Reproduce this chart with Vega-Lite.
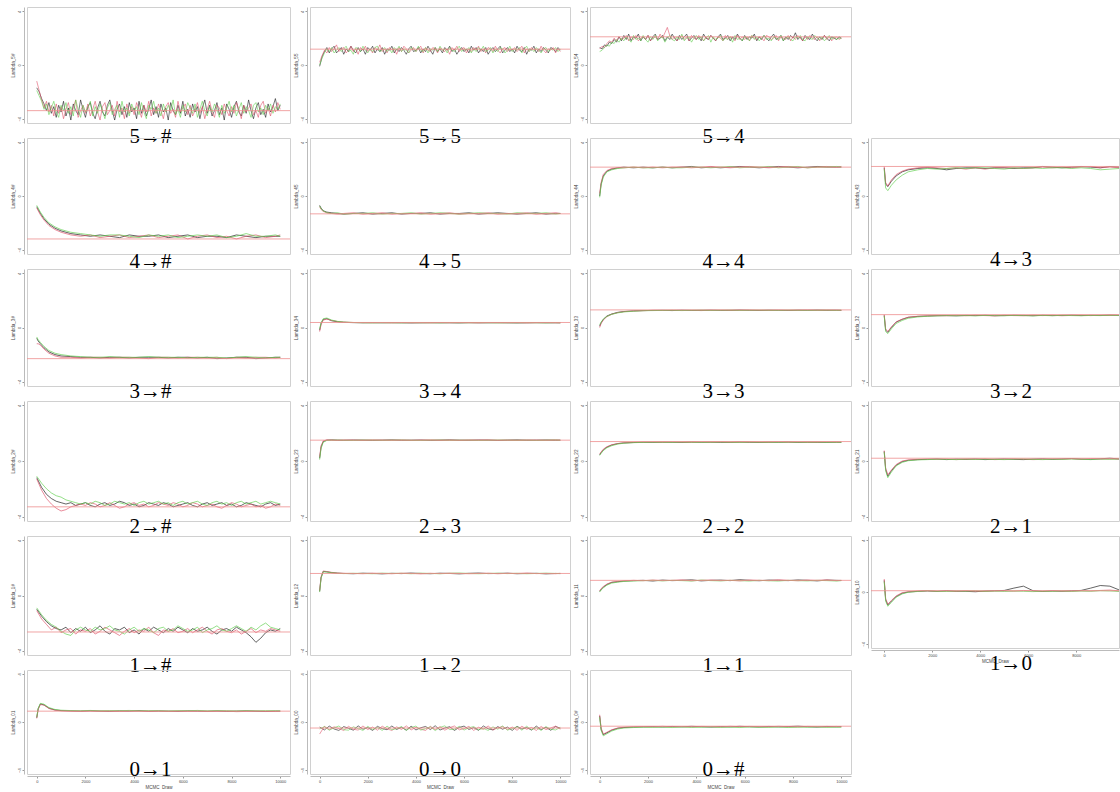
{
"$schema":"https://vega.github.io/schema/vega-lite/v6.json",
"padding":{"left":9,"top":6,"right":0,"bottom":0},
"background":"white",
"datasets":{
"tr":[
{"p":"5→#","x":[0,100,200,300,400,500,600,700,800,900,1000,1100,1200,1300,1400,1500,1600,1700,1800,1900,2000,2100,2200,2300,2400,2500,2600,2700,2800,2900,3000,3100,3200,3300,3400,3500,3600,3700,3800,3900,4000,4100,4200,4300,4400,4500,4600,4700,4800,4900,5000,5100,5200,5300,5400,5500,5600,5700,5800,5900,6000,6100,6200,6300,6400,6500,6600,6700,6800,6900,7000,7100,7200,7300,7400,7500,7600,7700,7800,7900,8000,8100,8200,8300,8400,8500,8600,8700,8800,8900,9000,9100,9200,9300,9400,9500,9600,9700,9800,9900,10000],
"k":[-1.7,-2.0,-2.5,-2.9,-3.4,-2.8,-3.6,-3.1,-3.9,-3.0,-3.5,-2.7,-3.8,-3.2,-4.1,-2.9,-3.4,-3.7,-2.6,-3.3,-3.9,-3.1,-2.8,-3.6,-4.0,-3.2,-2.7,-3.5,-3.8,-3.0,-2.6,-3.4,-4.1,-3.3,-2.9,-3.7,-3.1,-3.9,-2.8,-3.5,-3.2,-4.0,-2.7,-3.6,-3.0,-3.8,-3.3,-2.6,-3.7,-3.1,-3.9,-2.9,-3.5,-3.2,-4.1,-2.8,-3.4,-3.7,-3.0,-3.6,-2.7,-3.8,-3.3,-3.9,-2.9,-3.5,-3.1,-4.0,-3.2,-2.6,-3.6,-3.0,-3.8,-3.4,-2.8,-3.7,-3.2,-4.1,-2.9,-3.3,-3.9,-3.1,-2.7,-3.5,-3.8,-3.0,-3.6,-2.6,-3.4,-4.0,-3.2,-2.8,-3.7,-3.3,-3.9,-2.9,-3.5,-3.1,-2.5,-3.4,-3.0],
"r":[-1.2,-1.9,-2.6,-3.2,-2.7,-3.5,-3.0,-3.8,-2.9,-3.6,-3.1,-4.0,-3.3,-2.8,-3.7,-3.2,-2.6,-3.9,-3.4,-3.0,-3.6,-2.9,-3.8,-3.3,-2.7,-3.5,-4.1,-3.1,-2.8,-3.7,-3.4,-3.0,-3.8,-2.7,-3.5,-3.2,-4.0,-2.9,-3.6,-3.1,-3.7,-2.8,-3.3,-3.9,-3.0,-3.5,-2.7,-3.8,-3.2,-3.6,-2.9,-3.4,-4.0,-3.1,-2.8,-3.6,-3.3,-3.9,-2.7,-3.5,-3.2,-2.9,-3.7,-3.0,-3.8,-3.4,-2.8,-3.6,-3.1,-4.0,-3.3,-2.7,-3.5,-3.9,-3.0,-3.2,-3.7,-2.9,-3.4,-3.8,-3.1,-3.6,-2.8,-3.3,-4.0,-3.0,-3.5,-3.2,-2.9,-3.7,-3.4,-3.9,-3.0,-2.7,-3.6,-3.2,-3.8,-3.0,-3.5,-2.8,-3.3],
"g":[-1.9,-2.3,-2.7,-3.3,-2.9,-3.7,-3.2,-2.7,-3.5,-3.9,-3.0,-3.4,-2.8,-3.6,-3.1,-3.8,-2.6,-3.3,-3.9,-3.0,-3.5,-3.2,-2.7,-3.8,-3.1,-3.6,-2.9,-3.4,-4.0,-3.2,-2.8,-3.7,-3.3,-3.0,-3.9,-2.7,-3.5,-3.2,-3.8,-2.9,-3.4,-3.1,-3.7,-2.8,-3.5,-4.0,-3.0,-3.3,-2.7,-3.6,-3.2,-3.8,-2.9,-3.5,-3.0,-3.4,-2.6,-3.7,-3.3,-3.9,-3.0,-3.5,-2.8,-3.2,-3.6,-2.9,-3.9,-3.3,-2.7,-3.4,-3.8,-3.1,-3.5,-2.9,-3.3,-3.9,-3.0,-3.6,-3.2,-2.7,-3.5,-3.0,-3.8,-3.3,-2.8,-3.6,-3.1,-3.4,-3.9,-3.0,-2.8,-3.5,-3.2,-3.7,-3.0,-3.4,-2.9,-3.6,-3.1,-3.3,-2.9]},
{"p":"5→5","x":[0,100,200,300,400,500,600,700,800,900,1000,1100,1200,1300,1400,1500,1600,1700,1800,1900,2000,2100,2200,2300,2400,2500,2600,2700,2800,2900,3000,3100,3200,3300,3400,3500,3600,3700,3800,3900,4000,4100,4200,4300,4400,4500,4600,4700,4800,4900,5000,5100,5200,5300,5400,5500,5600,5700,5800,5900,6000,6100,6200,6300,6400,6500,6600,6700,6800,6900,7000,7100,7200,7300,7400,7500,7600,7700,7800,7900,8000,8100,8200,8300,8400,8500,8600,8700,8800,8900,9000,9100,9200,9300,9400,9500,9600,9700,9800,9900,10000],
"k":[-0.1,0.6,1.0,1.3,0.9,1.2,1.4,0.9,1.1,1.3,0.8,1.2,1.0,1.4,1.1,0.9,1.3,1.0,1.2,0.8,1.3,1.1,1.4,0.9,1.2,1.0,1.3,0.8,1.2,1.1,1.4,0.9,1.2,1.0,1.3,1.1,0.8,1.2,1.4,1.0,1.1,1.3,0.9,1.2,1.0,1.4,1.1,0.8,1.3,1.0,1.2,0.9,1.3,1.1,1.4,1.0,1.2,0.8,1.1,1.3,1.0,1.2,0.9,1.4,1.1,1.3,0.9,1.2,1.0,1.3,0.8,1.1,1.3,1.0,1.2,1.4,0.9,1.1,1.3,1.0,1.2,0.9,1.4,1.1,1.0,1.3,0.8,1.2,1.1,1.4,0.9,1.2,1.0,1.3,1.1,0.9,1.3,1.2,1.0,1.3,1.1],
"r":[0.2,0.7,1.1,0.9,1.3,1.0,1.2,1.5,1.0,1.2,1.3,0.9,1.1,1.4,1.0,1.2,0.8,1.3,1.1,1.4,1.0,1.2,0.9,1.3,1.1,1.5,1.0,1.2,0.9,1.3,1.1,1.2,0.8,1.3,1.0,1.4,1.2,0.9,1.1,1.3,1.0,1.2,1.4,0.9,1.3,1.1,1.0,1.3,1.2,0.9,1.3,1.1,1.0,1.2,0.8,1.3,1.1,1.4,1.0,1.2,1.3,0.9,1.2,1.0,1.3,1.1,1.4,1.0,1.2,0.9,1.3,1.2,1.0,1.4,1.1,0.9,1.2,1.3,1.0,1.2,1.1,1.3,1.0,1.2,1.4,0.9,1.2,1.0,1.3,1.1,1.2,1.0,1.4,1.1,0.9,1.2,1.1,1.3,0.9,1.2,1.0],
"g":[0.0,0.5,0.9,1.2,1.0,1.3,0.9,1.1,1.3,1.0,1.2,1.4,1.0,1.1,0.8,1.3,1.2,1.0,1.4,1.1,0.9,1.2,1.0,1.3,1.4,1.0,1.1,1.3,1.0,1.2,0.9,1.3,1.1,1.4,1.0,1.2,1.1,0.9,1.3,1.2,1.0,1.4,1.1,1.0,1.3,0.9,1.2,1.1,1.3,1.0,1.4,1.1,1.2,0.9,1.3,1.1,1.0,1.2,1.4,1.0,1.2,1.1,1.3,0.9,1.2,1.0,1.3,1.1,1.4,1.0,1.1,1.3,0.9,1.2,1.0,1.3,1.2,0.9,1.1,1.4,1.0,1.2,1.1,1.3,0.9,1.2,1.4,1.0,1.2,1.0,1.3,1.1,0.9,1.2,1.3,1.0,1.2,1.1,1.3,1.0,1.2]},
{"p":"5→4","x":[0,100,200,300,400,500,600,700,800,900,1000,1100,1200,1300,1400,1500,1600,1700,1800,1900,2000,2100,2200,2300,2400,2500,2600,2700,2800,2900,3000,3100,3200,3300,3400,3500,3600,3700,3800,3900,4000,4100,4200,4300,4400,4500,4600,4700,4800,4900,5000,5100,5200,5300,5400,5500,5600,5700,5800,5900,6000,6100,6200,6300,6400,6500,6600,6700,6800,6900,7000,7100,7200,7300,7400,7500,7600,7700,7800,7900,8000,8100,8200,8300,8400,8500,8600,8700,8800,8900,9000,9100,9200,9300,9400,9500,9600,9700,9800,9900,10000],
"k":[1.3,1.2,1.5,1.4,1.7,1.6,1.9,1.7,2.1,1.8,2.2,1.9,2.3,1.8,2.1,2.0,2.3,1.8,2.1,1.9,2.2,1.8,2.1,2.3,1.9,2.0,2.2,1.8,2.1,1.9,2.3,2.0,1.8,2.2,1.9,2.1,2.3,1.8,2.0,2.2,1.9,2.1,1.8,2.3,2.0,1.9,2.2,2.0,1.8,2.1,2.3,1.9,2.0,2.2,1.8,2.1,1.9,2.3,2.0,1.8,2.2,1.9,2.1,2.0,2.3,1.8,2.1,1.9,2.2,2.0,1.8,2.1,2.3,1.9,2.0,2.2,1.8,2.1,1.9,2.2,2.0,2.4,1.9,2.1,1.8,2.2,2.0,1.9,2.3,2.0,1.8,2.1,1.9,2.2,2.0,1.8,2.1,2.0,1.9,2.1,2.0],
"r":[1.2,1.4,1.3,1.6,1.8,1.7,2.0,1.8,2.1,1.9,2.0,2.2,1.8,2.1,1.9,2.2,1.8,2.0,2.1,1.9,2.2,1.8,2.0,2.1,1.9,2.3,2.0,2.4,2.8,2.2,1.9,2.1,1.8,2.0,2.2,1.9,2.1,1.8,2.2,2.0,1.9,2.2,2.0,1.8,2.1,1.9,2.2,2.0,1.8,2.1,2.0,1.8,2.2,1.9,2.1,2.0,1.8,2.2,1.9,2.1,1.9,2.1,1.8,2.2,2.0,1.9,2.1,2.0,1.8,2.2,2.1,1.9,2.0,2.2,1.8,2.1,2.0,1.9,2.2,1.8,2.1,1.9,2.2,2.0,1.8,2.1,1.9,2.2,2.0,1.9,2.1,1.8,2.0,2.2,1.9,2.1,1.8,2.0,2.1,1.9,2.0],
"g":[1.0,1.1,1.3,1.5,1.4,1.7,1.6,1.9,1.7,2.0,1.8,2.1,1.9,1.7,2.2,1.9,2.0,1.8,2.2,1.9,1.7,2.1,1.9,2.2,1.8,2.0,2.1,1.7,2.0,2.2,1.9,1.8,2.1,1.9,2.3,1.8,2.0,2.1,1.7,2.0,2.2,1.9,2.1,1.8,2.0,2.2,1.7,2.1,1.9,2.0,2.2,1.8,2.0,1.9,2.1,1.7,2.2,1.9,2.0,1.8,2.1,2.0,1.8,2.2,1.9,2.1,1.8,2.0,2.2,1.9,2.0,1.8,2.1,2.0,1.9,2.2,1.8,2.0,2.1,1.9,1.8,2.1,2.0,2.2,1.9,1.8,2.1,2.0,1.9,2.2,2.0,1.9,2.1,1.8,2.0,2.2,1.9,2.1,1.9,2.0,2.0]},
{"p":"4→#","x":[0,60,150,300,500,750,1000,1400,1800,2200,2600,3000,3400,3800,4200,4600,5000,5400,5800,6200,6600,7000,7400,7800,8200,8600,9000,9400,9800,10000],
"k":[-0.8,-1.0,-1.3,-1.7,-2.1,-2.4,-2.6,-2.8,-2.9,-3.0,-2.9,-3.0,-3.1,-2.9,-3.0,-3.0,-2.9,-3.1,-3.0,-2.9,-3.1,-3.0,-3.0,-3.1,-2.9,-3.0,-3.1,-3.0,-3.0,-3.0],
"r":[-0.9,-1.1,-1.4,-1.8,-2.2,-2.5,-2.7,-2.9,-3.0,-2.9,-3.1,-3.0,-2.9,-3.1,-3.0,-2.9,-3.1,-3.0,-2.9,-3.2,-3.0,-2.9,-3.1,-3.0,-3.2,-3.0,-2.9,-3.1,-3.0,-2.9],
"g":[-0.7,-0.9,-1.2,-1.6,-2.0,-2.3,-2.5,-2.7,-2.8,-2.9,-3.0,-2.9,-2.9,-3.0,-3.1,-2.9,-3.0,-2.9,-3.1,-3.0,-2.9,-3.0,-2.9,-3.1,-3.0,-2.8,-3.0,-3.0,-2.9,-3.0]},
{"p":"4→5","x":[0,60,150,300,500,750,1000,1400,1800,2200,2600,3000,3400,3800,4200,4600,5000,5400,5800,6200,6600,7000,7400,7800,8200,8600,9000,9400,9800,10000],
"k":[-0.7,-0.9,-1.1,-1.2,-1.25,-1.3,-1.35,-1.3,-1.25,-1.35,-1.3,-1.25,-1.35,-1.3,-1.3,-1.25,-1.35,-1.3,-1.3,-1.25,-1.35,-1.3,-1.25,-1.3,-1.35,-1.3,-1.25,-1.35,-1.3,-1.3],
"r":[-0.8,-1.0,-1.15,-1.25,-1.3,-1.35,-1.3,-1.25,-1.35,-1.3,-1.25,-1.35,-1.3,-1.3,-1.25,-1.35,-1.3,-1.25,-1.35,-1.3,-1.3,-1.25,-1.35,-1.3,-1.3,-1.25,-1.35,-1.3,-1.25,-1.3],
"g":[-0.75,-0.95,-1.1,-1.25,-1.3,-1.25,-1.35,-1.3,-1.3,-1.25,-1.35,-1.3,-1.3,-1.25,-1.35,-1.3,-1.25,-1.3,-1.35,-1.3,-1.25,-1.3,-1.3,-1.35,-1.25,-1.3,-1.3,-1.25,-1.35,-1.3]},
{"p":"4→4","x":[0,60,150,300,500,750,1000,1400,1800,2200,2600,3000,3400,3800,4200,4600,5000,5400,5800,6200,6600,7000,7400,7800,8200,8600,9000,9400,9800,10000],
"k":[0.0,0.9,1.5,1.85,2.0,2.1,2.15,2.1,2.15,2.1,2.15,2.1,2.15,2.2,2.1,2.15,2.1,2.15,2.2,2.15,2.1,2.15,2.2,2.15,2.1,2.15,2.2,2.15,2.15,2.15],
"r":[0.2,1.0,1.6,1.9,2.05,2.1,2.1,2.15,2.1,2.15,2.1,2.15,2.15,2.1,2.15,2.2,2.15,2.1,2.15,2.2,2.15,2.1,2.15,2.2,2.15,2.1,2.15,2.2,2.15,2.2],
"g":[-0.1,0.8,1.4,1.8,1.95,2.05,2.1,2.15,2.1,2.1,2.15,2.1,2.1,2.15,2.15,2.1,2.15,2.2,2.1,2.15,2.15,2.2,2.1,2.15,2.2,2.1,2.15,2.15,2.2,2.15]},
{"p":"4→3","x":[0,60,150,300,500,750,1000,1400,1800,2200,2600,3000,3400,3800,4200,4600,5000,5400,5800,6200,6600,7000,7400,7800,8200,8600,9000,9400,9800,10000],
"k":[2.1,0.9,0.7,1.1,1.5,1.8,1.95,2.05,2.1,2.05,1.95,2.05,2.1,2.1,2.05,2.1,2.1,2.05,2.1,2.1,2.2,2.15,2.1,2.15,2.2,2.15,2.1,2.2,2.15,2.1],
"r":[2.2,1.0,0.75,1.2,1.6,1.85,2.0,2.1,2.15,2.1,2.05,2.1,2.0,2.1,2.0,2.1,2.1,2.1,2.05,2.1,2.15,2.1,2.15,2.1,2.15,2.2,2.1,2.15,2.1,2.15],
"g":[2.0,0.6,0.4,0.8,1.2,1.55,1.8,1.95,2.05,2.0,2.05,2.1,2.05,2.1,2.1,2.05,2.0,2.1,2.05,2.1,2.05,2.1,2.1,2.05,2.1,2.05,1.95,2.0,2.05,2.1]},
{"p":"3→#","x":[0,60,150,300,500,750,1000,1400,1800,2200,2600,3000,3400,3800,4200,4600,5000,5400,5800,6200,6600,7000,7400,7800,8200,8600,9000,9400,9800,10000],
"k":[-0.8,-1.0,-1.2,-1.5,-1.8,-2.0,-2.1,-2.15,-2.2,-2.2,-2.25,-2.2,-2.2,-2.25,-2.2,-2.2,-2.2,-2.25,-2.2,-2.2,-2.25,-2.2,-2.3,-2.25,-2.2,-2.2,-2.3,-2.25,-2.2,-2.2],
"r":[-1.2,-1.2,-1.3,-1.6,-1.9,-2.1,-2.2,-2.2,-2.25,-2.2,-2.2,-2.25,-2.2,-2.2,-2.25,-2.3,-2.2,-2.2,-2.25,-2.2,-2.2,-2.25,-2.2,-2.3,-2.2,-2.25,-2.2,-2.2,-2.25,-2.2],
"g":[-0.7,-0.9,-1.1,-1.4,-1.7,-1.9,-2.0,-2.1,-2.15,-2.2,-2.2,-2.15,-2.2,-2.2,-2.2,-2.15,-2.2,-2.2,-2.2,-2.25,-2.2,-2.2,-2.2,-2.25,-2.2,-2.15,-2.2,-2.25,-2.2,-2.2]},
{"p":"3→4","x":[0,60,150,300,500,750,1000,1400,1800,2200,2600,3000,3400,3800,4200,4600,5000,5400,5800,6200,6600,7000,7400,7800,8200,8600,9000,9400,9800,10000],
"k":[-0.2,0.3,0.6,0.65,0.5,0.42,0.38,0.36,0.35,0.36,0.35,0.36,0.35,0.34,0.35,0.36,0.35,0.35,0.34,0.36,0.35,0.35,0.36,0.35,0.34,0.35,0.36,0.35,0.35,0.35],
"r":[-0.3,0.2,0.55,0.62,0.52,0.44,0.4,0.37,0.36,0.35,0.36,0.34,0.36,0.35,0.35,0.34,0.36,0.35,0.36,0.35,0.34,0.36,0.35,0.35,0.36,0.34,0.35,0.36,0.35,0.34],
"g":[-0.1,0.35,0.65,0.7,0.55,0.45,0.4,0.37,0.35,0.34,0.35,0.35,0.34,0.36,0.35,0.35,0.34,0.36,0.35,0.35,0.36,0.35,0.34,0.35,0.35,0.36,0.35,0.34,0.36,0.35]},
{"p":"3→3","x":[0,60,150,300,500,750,1000,1400,1800,2200,2600,3000,3400,3800,4200,4600,5000,5400,5800,6200,6600,7000,7400,7800,8200,8600,9000,9400,9800,10000],
"k":[0.1,0.35,0.6,0.85,1.0,1.12,1.18,1.23,1.25,1.26,1.27,1.25,1.28,1.26,1.27,1.28,1.26,1.27,1.29,1.27,1.26,1.28,1.27,1.26,1.28,1.27,1.29,1.27,1.28,1.27],
"r":[0.0,0.3,0.55,0.8,0.98,1.1,1.17,1.22,1.24,1.27,1.26,1.28,1.26,1.27,1.25,1.27,1.28,1.26,1.27,1.28,1.27,1.26,1.28,1.27,1.27,1.29,1.26,1.28,1.27,1.26],
"g":[0.2,0.4,0.62,0.82,0.97,1.08,1.15,1.2,1.24,1.25,1.26,1.27,1.25,1.27,1.28,1.26,1.27,1.28,1.26,1.27,1.28,1.27,1.26,1.28,1.27,1.26,1.27,1.28,1.26,1.28]},
{"p":"3→2","x":[0,60,150,300,500,750,1000,1400,1800,2200,2600,3000,3400,3800,4200,4600,5000,5400,5800,6200,6600,7000,7400,7800,8200,8600,9000,9400,9800,10000],
"k":[0.9,-0.2,-0.35,0.0,0.4,0.6,0.75,0.82,0.85,0.87,0.88,0.86,0.89,0.88,0.9,0.87,0.88,0.9,0.89,0.87,0.9,0.88,0.89,0.91,0.88,0.9,0.89,0.92,0.9,0.88],
"r":[0.95,-0.1,-0.3,0.05,0.42,0.62,0.76,0.83,0.86,0.88,0.87,0.89,0.87,0.9,0.88,0.86,0.9,0.88,0.87,0.9,0.88,0.9,0.87,0.89,0.91,0.88,0.9,0.89,0.91,0.9],
"g":[0.85,-0.3,-0.45,-0.1,0.3,0.52,0.68,0.78,0.83,0.86,0.88,0.87,0.88,0.86,0.89,0.88,0.87,0.89,0.88,0.86,0.89,0.87,0.9,0.88,0.87,0.89,0.88,0.9,0.88,0.87]},
{"p":"2→#","x":[0,200,400,600,800,1000,1200,1400,1600,1800,2000,2200,2400,2600,2800,3000,3200,3400,3600,3800,4000,4200,4400,4600,4800,5000,5200,5400,5600,5800,6000,6200,6400,6600,6800,7000,7200,7400,7600,7800,8000,8200,8400,8600,8800,9000,9200,9400,9600,9800,10000],
"k":[-1.2,-1.9,-2.4,-2.7,-2.9,-3.0,-3.1,-3.0,-3.2,-3.1,-3.0,-3.2,-3.3,-3.1,-3.0,-3.2,-3.1,-2.9,-3.0,-3.2,-3.1,-3.3,-3.2,-3.0,-3.1,-3.2,-3.0,-3.1,-3.3,-3.2,-3.1,-3.0,-3.2,-3.3,-3.1,-3.0,-3.2,-3.1,-3.0,-3.2,-3.1,-3.3,-3.2,-3.0,-3.1,-3.2,-3.3,-3.1,-3.0,-3.2,-3.1],
"r":[-1.3,-2.1,-2.7,-3.1,-3.4,-3.6,-3.5,-3.3,-3.2,-3.1,-3.2,-3.0,-3.1,-3.3,-3.2,-3.0,-3.2,-3.4,-3.3,-3.1,-3.0,-3.2,-3.1,-3.3,-3.2,-3.0,-3.1,-3.2,-3.0,-3.1,-3.3,-3.2,-3.0,-3.1,-3.3,-3.2,-3.1,-3.3,-3.4,-3.2,-3.0,-3.1,-3.3,-3.2,-3.1,-3.3,-3.2,-3.4,-3.3,-3.1,-3.2],
"g":[-1.1,-1.6,-2.0,-2.3,-2.5,-2.6,-2.8,-2.9,-3.0,-3.1,-3.0,-3.1,-2.9,-3.0,-3.2,-3.1,-2.9,-3.0,-3.1,-3.0,-3.2,-3.0,-2.9,-3.1,-3.0,-2.9,-3.1,-3.0,-3.2,-3.0,-2.9,-3.1,-3.0,-2.9,-3.1,-3.2,-3.0,-2.9,-3.1,-3.0,-3.2,-3.0,-2.9,-3.1,-3.0,-2.9,-3.1,-3.0,-2.9,-3.0,-3.1]},
{"p":"2→3","x":[0,60,150,300,500,750,1000,1400,1800,2200,2600,3000,3400,3800,4200,4600,5000,5400,5800,6200,6600,7000,7400,7800,8200,8600,9000,9400,9800,10000],
"k":[0.2,1.0,1.4,1.5,1.52,1.5,1.49,1.51,1.5,1.48,1.5,1.52,1.49,1.5,1.51,1.48,1.5,1.52,1.5,1.49,1.51,1.5,1.48,1.5,1.52,1.49,1.5,1.51,1.49,1.5],
"r":[0.3,1.1,1.45,1.52,1.5,1.48,1.51,1.5,1.49,1.52,1.5,1.49,1.51,1.48,1.5,1.52,1.49,1.5,1.48,1.51,1.5,1.52,1.49,1.5,1.48,1.51,1.5,1.49,1.52,1.5],
"g":[0.1,0.9,1.35,1.48,1.5,1.51,1.49,1.48,1.51,1.5,1.49,1.5,1.51,1.49,1.48,1.5,1.51,1.49,1.5,1.5,1.48,1.49,1.51,1.5,1.49,1.5,1.48,1.5,1.51,1.49]},
{"p":"2→2","x":[0,60,150,300,500,750,1000,1400,1800,2200,2600,3000,3400,3800,4200,4600,5000,5400,5800,6200,6600,7000,7400,7800,8200,8600,9000,9400,9800,10000],
"k":[0.45,0.6,0.8,1.0,1.15,1.25,1.3,1.33,1.35,1.34,1.36,1.35,1.34,1.37,1.35,1.36,1.34,1.35,1.37,1.35,1.34,1.36,1.35,1.37,1.34,1.36,1.35,1.34,1.36,1.35],
"r":[0.5,0.65,0.85,1.03,1.17,1.26,1.31,1.34,1.35,1.36,1.34,1.36,1.35,1.34,1.36,1.35,1.37,1.34,1.35,1.36,1.35,1.34,1.37,1.35,1.36,1.34,1.35,1.37,1.35,1.36],
"g":[0.4,0.55,0.75,0.95,1.1,1.22,1.28,1.32,1.34,1.35,1.35,1.34,1.36,1.35,1.34,1.35,1.36,1.35,1.34,1.36,1.35,1.35,1.34,1.36,1.35,1.35,1.36,1.34,1.35,1.34]},
{"p":"2→1","x":[0,60,150,300,500,750,1000,1400,1800,2200,2600,3000,3400,3800,4200,4600,5000,5400,5800,6200,6600,7000,7400,7800,8200,8600,9000,9400,9800,10000],
"k":[0.7,-0.6,-1.1,-0.7,-0.3,-0.05,0.05,0.1,0.12,0.15,0.1,0.14,0.12,0.15,0.1,0.13,0.15,0.12,0.1,0.14,0.16,0.12,0.15,0.18,0.14,0.12,0.16,0.2,0.15,0.13],
"r":[0.75,-0.5,-1.0,-0.65,-0.25,0.0,0.08,0.12,0.14,0.12,0.15,0.1,0.13,0.12,0.16,0.1,0.12,0.15,0.13,0.1,0.12,0.15,0.13,0.16,0.12,0.18,0.14,0.15,0.13,0.16],
"g":[0.65,-0.7,-1.2,-0.8,-0.35,-0.1,0.02,0.08,0.1,0.13,0.12,0.1,0.14,0.11,0.13,0.12,0.1,0.13,0.15,0.12,0.1,0.13,0.12,0.14,0.13,0.1,0.14,0.12,0.15,0.12]},
{"p":"1→#","x":[0,200,400,600,800,1000,1200,1400,1600,1800,2000,2200,2400,2600,2800,3000,3200,3400,3600,3800,4000,4200,4400,4600,4800,5000,5200,5400,5600,5800,6000,6200,6400,6600,6800,7000,7200,7400,7600,7800,8000,8200,8400,8600,8800,9000,9200,9400,9600,9800,10000],
"k":[-1.0,-1.5,-1.9,-2.2,-2.4,-2.5,-2.3,-2.7,-2.4,-2.6,-2.3,-2.7,-2.5,-2.2,-2.6,-2.8,-2.4,-2.5,-2.3,-2.7,-2.5,-2.8,-2.4,-2.6,-2.3,-2.5,-2.7,-2.4,-2.6,-2.3,-2.5,-2.7,-2.4,-2.6,-2.5,-2.3,-2.6,-2.8,-2.5,-2.4,-2.6,-2.3,-2.5,-2.7,-3.0,-3.4,-3.1,-2.7,-2.5,-2.6,-2.4],
"r":[-1.1,-1.7,-2.1,-2.5,-2.3,-2.7,-2.5,-2.4,-2.8,-2.5,-2.6,-2.4,-2.8,-2.6,-2.3,-2.5,-2.7,-2.9,-2.6,-2.4,-2.7,-2.5,-2.6,-2.3,-2.7,-2.9,-2.5,-2.6,-2.4,-2.7,-2.6,-2.4,-2.7,-2.5,-2.3,-2.6,-2.8,-2.5,-2.4,-2.6,-2.7,-2.5,-2.8,-2.6,-2.4,-2.7,-2.5,-2.6,-2.4,-2.5,-2.6],
"g":[-0.9,-1.4,-1.8,-2.1,-2.3,-2.6,-2.8,-2.9,-2.5,-2.3,-2.5,-2.6,-2.3,-2.5,-2.4,-2.2,-2.5,-2.6,-2.8,-2.5,-2.3,-2.6,-2.4,-2.5,-2.7,-2.4,-2.3,-2.6,-2.5,-2.2,-2.4,-2.6,-2.5,-2.3,-2.7,-2.5,-2.4,-2.2,-2.5,-2.6,-2.4,-2.2,-2.4,-2.6,-2.3,-2.5,-2.2,-2.0,-2.3,-2.4,-2.5]},
{"p":"1→2","x":[0,60,150,300,500,750,1000,1400,1800,2200,2600,3000,3400,3800,4200,4600,5000,5400,5800,6200,6600,7000,7400,7800,8200,8600,9000,9400,9800,10000],
"k":[0.3,1.3,1.75,1.72,1.66,1.62,1.6,1.58,1.62,1.6,1.57,1.61,1.59,1.63,1.6,1.58,1.62,1.6,1.57,1.61,1.63,1.59,1.6,1.62,1.58,1.6,1.61,1.57,1.6,1.59],
"r":[0.35,1.35,1.78,1.74,1.68,1.63,1.61,1.6,1.58,1.62,1.6,1.58,1.62,1.6,1.57,1.61,1.59,1.62,1.6,1.58,1.6,1.62,1.58,1.61,1.6,1.63,1.59,1.6,1.58,1.61],
"g":[0.25,1.25,1.72,1.7,1.65,1.61,1.59,1.61,1.6,1.58,1.62,1.6,1.61,1.58,1.62,1.6,1.58,1.61,1.63,1.6,1.58,1.6,1.62,1.59,1.61,1.58,1.6,1.62,1.6,1.6]},
{"p":"1→1","x":[0,60,150,300,500,750,1000,1400,1800,2200,2600,3000,3400,3800,4200,4600,5000,5400,5800,6200,6600,7000,7400,7800,8200,8600,9000,9400,9800,10000],
"k":[0.3,0.45,0.6,0.8,0.95,1.0,1.05,1.08,1.1,1.05,1.12,1.08,1.1,1.14,1.06,1.1,1.12,1.08,1.15,1.1,1.07,1.12,1.1,1.08,1.13,1.1,1.06,1.12,1.1,1.09],
"r":[0.35,0.5,0.65,0.83,0.97,1.02,1.06,1.1,1.07,1.12,1.08,1.1,1.13,1.07,1.1,1.12,1.08,1.1,1.06,1.12,1.1,1.08,1.14,1.1,1.07,1.12,1.1,1.13,1.08,1.1],
"g":[0.25,0.4,0.55,0.75,0.9,0.97,1.02,1.05,1.08,1.1,1.06,1.1,1.08,1.05,1.12,1.08,1.06,1.1,1.08,1.05,1.1,1.07,1.05,1.1,1.08,1.06,1.1,1.08,1.05,1.08]},
{"p":"1→0","x":[0,60,150,300,500,750,1000,1400,1800,2200,2600,3000,3400,3800,4200,4600,5000,5400,5800,6200,6600,7000,7400,7800,8200,8600,9000,9400,9800,10000],
"k":[0.9,-0.6,-1.0,-0.7,-0.35,-0.1,0.0,0.05,0.08,0.05,0.1,0.06,0.05,0.02,0.08,0.1,0.12,0.3,0.45,0.1,0.05,0.08,0.06,0.1,0.12,0.3,0.5,0.45,0.15,0.1],
"r":[1.0,-0.5,-0.95,-0.65,-0.3,-0.05,0.02,0.08,0.1,0.06,0.08,0.05,0.1,0.06,0.04,0.08,0.1,0.06,0.12,0.08,0.05,0.1,0.07,0.06,0.1,0.08,0.12,0.15,0.08,0.05],
"g":[0.8,-0.7,-1.1,-0.8,-0.4,-0.15,-0.02,0.04,0.1,0.05,0.04,0.08,0.06,0.1,0.05,0.07,0.04,0.08,0.05,0.03,0.06,0.04,0.08,0.05,0.07,0.06,0.1,0.08,0.04,0.06]},
{"p":"0→1","x":[0,60,150,300,500,750,1000,1400,1800,2200,2600,3000,3400,3800,4200,4600,5000,5400,5800,6200,6600,7000,7400,7800,8200,8600,9000,9400,9800,10000],
"k":[0.35,1.1,1.5,1.42,1.15,1.0,0.95,0.92,0.9,0.93,0.9,0.88,0.92,0.9,0.94,0.89,0.91,0.9,0.88,0.92,0.9,0.89,0.91,0.88,0.9,0.92,0.89,0.87,0.9,0.9],
"r":[0.3,1.05,1.45,1.4,1.12,0.98,0.93,0.9,0.88,0.91,0.89,0.9,0.87,0.91,0.89,0.88,0.9,0.87,0.9,0.88,0.91,0.87,0.89,0.9,0.86,0.88,0.9,0.88,0.87,0.89],
"g":[0.4,1.15,1.55,1.48,1.2,1.04,0.98,0.95,0.94,0.96,0.93,0.95,0.94,0.96,0.93,0.95,0.94,0.92,0.95,0.94,0.96,0.93,0.95,0.94,0.92,0.95,0.93,0.95,0.94,0.93]},
{"p":"0→0","x":[0,200,400,600,800,1000,1200,1400,1600,1800,2000,2200,2400,2600,2800,3000,3200,3400,3600,3800,4000,4200,4400,4600,4800,5000,5200,5400,5600,5800,6000,6200,6400,6600,6800,7000,7200,7400,7600,7800,8000,8200,8400,8600,8800,9000,9200,9400,9600,9800,10000],
"k":[-0.42,-0.66,-0.34,-0.58,-0.7,-0.38,-0.52,-0.68,-0.32,-0.6,-0.46,-0.7,-0.36,-0.55,-0.64,-0.33,-0.62,-0.44,-0.68,-0.35,-0.66,-0.48,-0.37,-0.63,-0.31,-0.67,-0.5,-0.39,-0.7,-0.45,-0.34,-0.62,-0.47,-0.69,-0.33,-0.56,-0.66,-0.38,-0.6,-0.42,-0.7,-0.36,-0.58,-0.46,-0.67,-0.34,-0.63,-0.44,-0.69,-0.37,-0.52],
"r":[-1.0,-0.36,-0.64,-0.4,-0.55,-0.7,-0.36,-0.6,-0.67,-0.33,-0.63,-0.42,-0.68,-0.35,-0.57,-0.7,-0.4,-0.62,-0.32,-0.66,-0.44,-0.6,-0.7,-0.36,-0.64,-0.38,-0.68,-0.47,-0.33,-0.65,-0.55,-0.36,-0.7,-0.43,-0.62,-0.33,-0.67,-0.48,-0.38,-0.64,-0.42,-0.69,-0.35,-0.61,-0.45,-0.7,-0.37,-0.63,-0.5,-0.34,-0.6],
"g":[-0.58,-0.38,-0.68,-0.48,-0.33,-0.64,-0.68,-0.4,-0.55,-0.7,-0.36,-0.62,-0.47,-0.7,-0.34,-0.65,-0.55,-0.38,-0.69,-0.46,-0.34,-0.67,-0.56,-0.4,-0.71,-0.45,-0.32,-0.63,-0.6,-0.36,-0.67,-0.48,-0.38,-0.65,-0.53,-0.7,-0.4,-0.6,-0.33,-0.67,-0.55,-0.39,-0.68,-0.35,-0.64,-0.47,-0.7,-0.38,-0.6,-0.66,-0.45]},
{"p":"0→#","x":[0,60,150,300,500,750,1000,1400,1800,2200,2600,3000,3400,3800,4200,4600,5000,5400,5800,6200,6600,7000,7400,7800,8200,8600,9000,9400,9800,10000],
"k":[0.5,-0.6,-1.05,-0.9,-0.68,-0.52,-0.46,-0.42,-0.4,-0.38,-0.41,-0.37,-0.4,-0.36,-0.39,-0.42,-0.38,-0.4,-0.36,-0.39,-0.41,-0.37,-0.4,-0.38,-0.35,-0.39,-0.42,-0.37,-0.4,-0.38],
"r":[0.6,-0.5,-1.0,-0.85,-0.64,-0.5,-0.44,-0.4,-0.38,-0.4,-0.36,-0.4,-0.38,-0.41,-0.37,-0.38,-0.41,-0.36,-0.39,-0.37,-0.38,-0.4,-0.36,-0.39,-0.41,-0.37,-0.38,-0.4,-0.37,-0.39],
"g":[0.4,-0.7,-1.15,-0.98,-0.75,-0.58,-0.5,-0.46,-0.44,-0.45,-0.43,-0.46,-0.42,-0.45,-0.44,-0.41,-0.45,-0.43,-0.46,-0.42,-0.44,-0.45,-0.42,-0.46,-0.43,-0.44,-0.41,-0.45,-0.43,-0.44]}
],
"tv":[
{"p":"5→#","t":-3.4},{"p":"5→5","t":1.18},{"p":"5→4","t":2.1},
{"p":"4→#","t":-3.2},{"p":"4→5","t":-1.33},{"p":"4→4","t":2.15},{"p":"4→3","t":2.2},
{"p":"3→#","t":-2.3},{"p":"3→4","t":0.37},{"p":"3→3","t":1.3},{"p":"3→2","t":0.95},
{"p":"2→#","t":-3.3},{"p":"2→3","t":1.5},{"p":"2→2","t":1.4},{"p":"2→1","t":0.2},
{"p":"1→#","t":-2.65},{"p":"1→2","t":1.6},{"p":"1→1","t":1.1},{"p":"1→0","t":0.1},
{"p":"0→1","t":0.9},{"p":"0→0","t":-0.5},{"p":"0→#","t":-0.35}
]
},
"columns":4,
"align":"each",
"bounds":"flush",
"spacing":{"row":15,"column":20},
"concat":[
{"width":263,"height":116,"title":{"text":"5→#","offset":0,"dy":3,"dx":-8},"layer":[{"data":{"name":"tr"},"transform":[{"filter":"datum.p==='5→#'"},{"flatten":["x","k","r","g"]},{"fold":["k","r","g"],"as":["c","v"]}],"mark":{"type":"line","strokeWidth":0.7,"opacity":0.85,"clip":true},"encoding":{"x":{"field":"x","type":"quantitative","scale":{"domain":[-400,10400],"nice":false,"zero":false},"axis":null},"y":{"field":"v","type":"quantitative","scale":{"domain":[-4.32,4.32],"nice":false,"zero":false},"axis":{"values":[-4,-2,0,2,4],"title":"Lambda_5#"}},"color":{"field":"c","type":"nominal","scale":{"domain":["k","r","g"],"range":["#1a1a1a","#DF536B","#61D04F"]},"legend":null}}},{"data":{"name":"tv"},"transform":[{"filter":"datum.p==='5→#'"}],"mark":{"type":"rule","color":"#EE8E8E","strokeWidth":1,"opacity":0.8},"encoding":{"y":{"field":"t","type":"quantitative","scale":{"domain":[-4.32,4.32],"nice":false,"zero":false}}}}]},
{"width":260,"height":116,"title":{"text":"5→5","offset":0,"dy":3,"dx":0},"layer":[{"data":{"name":"tr"},"transform":[{"filter":"datum.p==='5→5'"},{"flatten":["x","k","r","g"]},{"fold":["k","r","g"],"as":["c","v"]}],"mark":{"type":"line","strokeWidth":0.7,"opacity":0.85,"clip":true},"encoding":{"x":{"field":"x","type":"quantitative","scale":{"domain":[-400,10400],"nice":false,"zero":false},"axis":null},"y":{"field":"v","type":"quantitative","scale":{"domain":[-4.32,4.32],"nice":false,"zero":false},"axis":{"values":[-4,-2,0,2,4],"title":"Lambda_55"}},"color":{"field":"c","type":"nominal","scale":{"domain":["k","r","g"],"range":["#1a1a1a","#DF536B","#61D04F"]},"legend":null}}},{"data":{"name":"tv"},"transform":[{"filter":"datum.p==='5→5'"}],"mark":{"type":"rule","color":"#EE8E8E","strokeWidth":1,"opacity":0.8},"encoding":{"y":{"field":"t","type":"quantitative","scale":{"domain":[-4.32,4.32],"nice":false,"zero":false}}}}]},
{"width":261,"height":116,"title":{"text":"5→4","offset":0,"dy":3,"dx":3},"layer":[{"data":{"name":"tr"},"transform":[{"filter":"datum.p==='5→4'"},{"flatten":["x","k","r","g"]},{"fold":["k","r","g"],"as":["c","v"]}],"mark":{"type":"line","strokeWidth":0.7,"opacity":0.85,"clip":true},"encoding":{"x":{"field":"x","type":"quantitative","scale":{"domain":[-400,10400],"nice":false,"zero":false},"axis":null},"y":{"field":"v","type":"quantitative","scale":{"domain":[-4.32,4.32],"nice":false,"zero":false},"axis":{"values":[-4,-2,0,2,4],"title":"Lambda_54"}},"color":{"field":"c","type":"nominal","scale":{"domain":["k","r","g"],"range":["#1a1a1a","#DF536B","#61D04F"]},"legend":null}}},{"data":{"name":"tv"},"transform":[{"filter":"datum.p==='5→4'"}],"mark":{"type":"rule","color":"#EE8E8E","strokeWidth":1,"opacity":0.8},"encoding":{"y":{"field":"t","type":"quantitative","scale":{"domain":[-4.32,4.32],"nice":false,"zero":false}}}}]},
{"width":1,"height":1,"data":{"values":[]},"mark":{"type":"point","opacity":0},"encoding":{},"view":{"stroke":null}},
{"width":263,"height":116,"title":{"text":"4→#","offset":0,"dy":-3,"dx":-8},"layer":[{"data":{"name":"tr"},"transform":[{"filter":"datum.p==='4→#'"},{"flatten":["x","k","r","g"]},{"fold":["k","r","g"],"as":["c","v"]}],"mark":{"type":"line","strokeWidth":0.8,"opacity":0.85,"clip":true},"encoding":{"x":{"field":"x","type":"quantitative","scale":{"domain":[-400,10400],"nice":false,"zero":false},"axis":null},"y":{"field":"v","type":"quantitative","scale":{"domain":[-4.32,4.32],"nice":false,"zero":false},"axis":{"values":[-4,-2,0,2,4],"title":"Lambda_4#"}},"color":{"field":"c","type":"nominal","scale":{"domain":["k","r","g"],"range":["#1a1a1a","#DF536B","#61D04F"]},"legend":null}}},{"data":{"name":"tv"},"transform":[{"filter":"datum.p==='4→#'"}],"mark":{"type":"rule","color":"#EE8E8E","strokeWidth":1,"opacity":0.8},"encoding":{"y":{"field":"t","type":"quantitative","scale":{"domain":[-4.32,4.32],"nice":false,"zero":false}}}}]},
{"width":260,"height":116,"title":{"text":"4→5","offset":0,"dy":-3,"dx":0},"layer":[{"data":{"name":"tr"},"transform":[{"filter":"datum.p==='4→5'"},{"flatten":["x","k","r","g"]},{"fold":["k","r","g"],"as":["c","v"]}],"mark":{"type":"line","strokeWidth":0.8,"opacity":0.85,"clip":true},"encoding":{"x":{"field":"x","type":"quantitative","scale":{"domain":[-400,10400],"nice":false,"zero":false},"axis":null},"y":{"field":"v","type":"quantitative","scale":{"domain":[-4.32,4.32],"nice":false,"zero":false},"axis":{"values":[-4,-2,0,2,4],"title":"Lambda_45"}},"color":{"field":"c","type":"nominal","scale":{"domain":["k","r","g"],"range":["#1a1a1a","#DF536B","#61D04F"]},"legend":null}}},{"data":{"name":"tv"},"transform":[{"filter":"datum.p==='4→5'"}],"mark":{"type":"rule","color":"#EE8E8E","strokeWidth":1,"opacity":0.8},"encoding":{"y":{"field":"t","type":"quantitative","scale":{"domain":[-4.32,4.32],"nice":false,"zero":false}}}}]},
{"width":261,"height":116,"title":{"text":"4→4","offset":0,"dy":-3,"dx":3},"layer":[{"data":{"name":"tr"},"transform":[{"filter":"datum.p==='4→4'"},{"flatten":["x","k","r","g"]},{"fold":["k","r","g"],"as":["c","v"]}],"mark":{"type":"line","strokeWidth":0.8,"opacity":0.85,"clip":true},"encoding":{"x":{"field":"x","type":"quantitative","scale":{"domain":[-400,10400],"nice":false,"zero":false},"axis":null},"y":{"field":"v","type":"quantitative","scale":{"domain":[-4.32,4.32],"nice":false,"zero":false},"axis":{"values":[-4,-2,0,2,4],"title":"Lambda_44"}},"color":{"field":"c","type":"nominal","scale":{"domain":["k","r","g"],"range":["#1a1a1a","#DF536B","#61D04F"]},"legend":null}}},{"data":{"name":"tv"},"transform":[{"filter":"datum.p==='4→4'"}],"mark":{"type":"rule","color":"#EE8E8E","strokeWidth":1,"opacity":0.8},"encoding":{"y":{"field":"t","type":"quantitative","scale":{"domain":[-4.32,4.32],"nice":false,"zero":false}}}}]},
{"width":248,"height":116,"title":{"text":"4→3","offset":0,"dy":-5,"dx":16},"layer":[{"data":{"name":"tr"},"transform":[{"filter":"datum.p==='4→3'"},{"flatten":["x","k","r","g"]},{"fold":["k","r","g"],"as":["c","v"]}],"mark":{"type":"line","strokeWidth":0.8,"opacity":0.85,"clip":true},"encoding":{"x":{"field":"x","type":"quantitative","scale":{"domain":[-550,9780],"nice":false,"zero":false},"axis":null},"y":{"field":"v","type":"quantitative","scale":{"domain":[-4.32,4.32],"nice":false,"zero":false},"axis":{"values":[-4,-2,0,2,4],"title":"Lambda_43"}},"color":{"field":"c","type":"nominal","scale":{"domain":["k","r","g"],"range":["#1a1a1a","#DF536B","#61D04F"]},"legend":null}}},{"data":{"name":"tv"},"transform":[{"filter":"datum.p==='4→3'"}],"mark":{"type":"rule","color":"#EE8E8E","strokeWidth":1,"opacity":0.8},"encoding":{"y":{"field":"t","type":"quantitative","scale":{"domain":[-4.32,4.32],"nice":false,"zero":false}}}}]},
{"width":263,"height":117,"title":{"text":"3→#","offset":0,"dy":-5,"dx":-8},"layer":[{"data":{"name":"tr"},"transform":[{"filter":"datum.p==='3→#'"},{"flatten":["x","k","r","g"]},{"fold":["k","r","g"],"as":["c","v"]}],"mark":{"type":"line","strokeWidth":0.8,"opacity":0.85,"clip":true},"encoding":{"x":{"field":"x","type":"quantitative","scale":{"domain":[-400,10400],"nice":false,"zero":false},"axis":null},"y":{"field":"v","type":"quantitative","scale":{"domain":[-4.32,4.32],"nice":false,"zero":false},"axis":{"values":[-4,-2,0,2,4],"title":"Lambda_3#"}},"color":{"field":"c","type":"nominal","scale":{"domain":["k","r","g"],"range":["#1a1a1a","#DF536B","#61D04F"]},"legend":null}}},{"data":{"name":"tv"},"transform":[{"filter":"datum.p==='3→#'"}],"mark":{"type":"rule","color":"#EE8E8E","strokeWidth":1,"opacity":0.8},"encoding":{"y":{"field":"t","type":"quantitative","scale":{"domain":[-4.32,4.32],"nice":false,"zero":false}}}}]},
{"width":260,"height":117,"title":{"text":"3→4","offset":0,"dy":-5,"dx":0},"layer":[{"data":{"name":"tr"},"transform":[{"filter":"datum.p==='3→4'"},{"flatten":["x","k","r","g"]},{"fold":["k","r","g"],"as":["c","v"]}],"mark":{"type":"line","strokeWidth":0.8,"opacity":0.85,"clip":true},"encoding":{"x":{"field":"x","type":"quantitative","scale":{"domain":[-400,10400],"nice":false,"zero":false},"axis":null},"y":{"field":"v","type":"quantitative","scale":{"domain":[-4.32,4.32],"nice":false,"zero":false},"axis":{"values":[-4,-2,0,2,4],"title":"Lambda_34"}},"color":{"field":"c","type":"nominal","scale":{"domain":["k","r","g"],"range":["#1a1a1a","#DF536B","#61D04F"]},"legend":null}}},{"data":{"name":"tv"},"transform":[{"filter":"datum.p==='3→4'"}],"mark":{"type":"rule","color":"#EE8E8E","strokeWidth":1,"opacity":0.8},"encoding":{"y":{"field":"t","type":"quantitative","scale":{"domain":[-4.32,4.32],"nice":false,"zero":false}}}}]},
{"width":261,"height":117,"title":{"text":"3→3","offset":0,"dy":-5,"dx":3},"layer":[{"data":{"name":"tr"},"transform":[{"filter":"datum.p==='3→3'"},{"flatten":["x","k","r","g"]},{"fold":["k","r","g"],"as":["c","v"]}],"mark":{"type":"line","strokeWidth":0.8,"opacity":0.85,"clip":true},"encoding":{"x":{"field":"x","type":"quantitative","scale":{"domain":[-400,10400],"nice":false,"zero":false},"axis":null},"y":{"field":"v","type":"quantitative","scale":{"domain":[-4.32,4.32],"nice":false,"zero":false},"axis":{"values":[-4,-2,0,2,4],"title":"Lambda_33"}},"color":{"field":"c","type":"nominal","scale":{"domain":["k","r","g"],"range":["#1a1a1a","#DF536B","#61D04F"]},"legend":null}}},{"data":{"name":"tv"},"transform":[{"filter":"datum.p==='3→3'"}],"mark":{"type":"rule","color":"#EE8E8E","strokeWidth":1,"opacity":0.8},"encoding":{"y":{"field":"t","type":"quantitative","scale":{"domain":[-4.32,4.32],"nice":false,"zero":false}}}}]},
{"width":248,"height":117,"title":{"text":"3→2","offset":0,"dy":-5,"dx":16},"layer":[{"data":{"name":"tr"},"transform":[{"filter":"datum.p==='3→2'"},{"flatten":["x","k","r","g"]},{"fold":["k","r","g"],"as":["c","v"]}],"mark":{"type":"line","strokeWidth":0.8,"opacity":0.85,"clip":true},"encoding":{"x":{"field":"x","type":"quantitative","scale":{"domain":[-550,9780],"nice":false,"zero":false},"axis":null},"y":{"field":"v","type":"quantitative","scale":{"domain":[-4.32,4.32],"nice":false,"zero":false},"axis":{"values":[-4,-2,0,2,4],"title":"Lambda_32"}},"color":{"field":"c","type":"nominal","scale":{"domain":["k","r","g"],"range":["#1a1a1a","#DF536B","#61D04F"]},"legend":null}}},{"data":{"name":"tv"},"transform":[{"filter":"datum.p==='3→2'"}],"mark":{"type":"rule","color":"#EE8E8E","strokeWidth":1,"opacity":0.8},"encoding":{"y":{"field":"t","type":"quantitative","scale":{"domain":[-4.32,4.32],"nice":false,"zero":false}}}}]},
{"width":263,"height":120,"title":{"text":"2→#","offset":0,"dy":-5,"dx":-8},"layer":[{"data":{"name":"tr"},"transform":[{"filter":"datum.p==='2→#'"},{"flatten":["x","k","r","g"]},{"fold":["k","r","g"],"as":["c","v"]}],"mark":{"type":"line","strokeWidth":0.8,"opacity":0.85,"clip":true},"encoding":{"x":{"field":"x","type":"quantitative","scale":{"domain":[-400,10400],"nice":false,"zero":false},"axis":null},"y":{"field":"v","type":"quantitative","scale":{"domain":[-4.32,4.32],"nice":false,"zero":false},"axis":{"values":[-4,-2,0,2,4],"title":"Lambda_2#"}},"color":{"field":"c","type":"nominal","scale":{"domain":["k","r","g"],"range":["#1a1a1a","#DF536B","#61D04F"]},"legend":null}}},{"data":{"name":"tv"},"transform":[{"filter":"datum.p==='2→#'"}],"mark":{"type":"rule","color":"#EE8E8E","strokeWidth":1,"opacity":0.8},"encoding":{"y":{"field":"t","type":"quantitative","scale":{"domain":[-4.32,4.32],"nice":false,"zero":false}}}}]},
{"width":260,"height":120,"title":{"text":"2→3","offset":0,"dy":-5,"dx":0},"layer":[{"data":{"name":"tr"},"transform":[{"filter":"datum.p==='2→3'"},{"flatten":["x","k","r","g"]},{"fold":["k","r","g"],"as":["c","v"]}],"mark":{"type":"line","strokeWidth":0.8,"opacity":0.85,"clip":true},"encoding":{"x":{"field":"x","type":"quantitative","scale":{"domain":[-400,10400],"nice":false,"zero":false},"axis":null},"y":{"field":"v","type":"quantitative","scale":{"domain":[-4.32,4.32],"nice":false,"zero":false},"axis":{"values":[-4,-2,0,2,4],"title":"Lambda_23"}},"color":{"field":"c","type":"nominal","scale":{"domain":["k","r","g"],"range":["#1a1a1a","#DF536B","#61D04F"]},"legend":null}}},{"data":{"name":"tv"},"transform":[{"filter":"datum.p==='2→3'"}],"mark":{"type":"rule","color":"#EE8E8E","strokeWidth":1,"opacity":0.8},"encoding":{"y":{"field":"t","type":"quantitative","scale":{"domain":[-4.32,4.32],"nice":false,"zero":false}}}}]},
{"width":261,"height":120,"title":{"text":"2→2","offset":0,"dy":-5,"dx":3},"layer":[{"data":{"name":"tr"},"transform":[{"filter":"datum.p==='2→2'"},{"flatten":["x","k","r","g"]},{"fold":["k","r","g"],"as":["c","v"]}],"mark":{"type":"line","strokeWidth":0.8,"opacity":0.85,"clip":true},"encoding":{"x":{"field":"x","type":"quantitative","scale":{"domain":[-400,10400],"nice":false,"zero":false},"axis":null},"y":{"field":"v","type":"quantitative","scale":{"domain":[-4.32,4.32],"nice":false,"zero":false},"axis":{"values":[-4,-2,0,2,4],"title":"Lambda_22"}},"color":{"field":"c","type":"nominal","scale":{"domain":["k","r","g"],"range":["#1a1a1a","#DF536B","#61D04F"]},"legend":null}}},{"data":{"name":"tv"},"transform":[{"filter":"datum.p==='2→2'"}],"mark":{"type":"rule","color":"#EE8E8E","strokeWidth":1,"opacity":0.8},"encoding":{"y":{"field":"t","type":"quantitative","scale":{"domain":[-4.32,4.32],"nice":false,"zero":false}}}}]},
{"width":248,"height":120,"title":{"text":"2→1","offset":0,"dy":-5,"dx":16},"layer":[{"data":{"name":"tr"},"transform":[{"filter":"datum.p==='2→1'"},{"flatten":["x","k","r","g"]},{"fold":["k","r","g"],"as":["c","v"]}],"mark":{"type":"line","strokeWidth":0.8,"opacity":0.85,"clip":true},"encoding":{"x":{"field":"x","type":"quantitative","scale":{"domain":[-550,9780],"nice":false,"zero":false},"axis":null},"y":{"field":"v","type":"quantitative","scale":{"domain":[-4.32,4.32],"nice":false,"zero":false},"axis":{"values":[-4,-2,0,2,4],"title":"Lambda_21"}},"color":{"field":"c","type":"nominal","scale":{"domain":["k","r","g"],"range":["#1a1a1a","#DF536B","#61D04F"]},"legend":null}}},{"data":{"name":"tv"},"transform":[{"filter":"datum.p==='2→1'"}],"mark":{"type":"rule","color":"#EE8E8E","strokeWidth":1,"opacity":0.8},"encoding":{"y":{"field":"t","type":"quantitative","scale":{"domain":[-4.32,4.32],"nice":false,"zero":false}}}}]},
{"width":263,"height":119,"title":{"text":"1→#","offset":0,"dy":0,"dx":-8},"layer":[{"data":{"name":"tr"},"transform":[{"filter":"datum.p==='1→#'"},{"flatten":["x","k","r","g"]},{"fold":["k","r","g"],"as":["c","v"]}],"mark":{"type":"line","strokeWidth":0.8,"opacity":0.85,"clip":true},"encoding":{"x":{"field":"x","type":"quantitative","scale":{"domain":[-400,10400],"nice":false,"zero":false},"axis":null},"y":{"field":"v","type":"quantitative","scale":{"domain":[-4.32,4.32],"nice":false,"zero":false},"axis":{"values":[-4,-2,0,2,4],"title":"Lambda_1#"}},"color":{"field":"c","type":"nominal","scale":{"domain":["k","r","g"],"range":["#1a1a1a","#DF536B","#61D04F"]},"legend":null}}},{"data":{"name":"tv"},"transform":[{"filter":"datum.p==='1→#'"}],"mark":{"type":"rule","color":"#EE8E8E","strokeWidth":1,"opacity":0.8},"encoding":{"y":{"field":"t","type":"quantitative","scale":{"domain":[-4.32,4.32],"nice":false,"zero":false}}}}]},
{"width":260,"height":119,"title":{"text":"1→2","offset":0,"dy":0,"dx":0},"layer":[{"data":{"name":"tr"},"transform":[{"filter":"datum.p==='1→2'"},{"flatten":["x","k","r","g"]},{"fold":["k","r","g"],"as":["c","v"]}],"mark":{"type":"line","strokeWidth":0.8,"opacity":0.85,"clip":true},"encoding":{"x":{"field":"x","type":"quantitative","scale":{"domain":[-400,10400],"nice":false,"zero":false},"axis":null},"y":{"field":"v","type":"quantitative","scale":{"domain":[-4.32,4.32],"nice":false,"zero":false},"axis":{"values":[-4,-2,0,2,4],"title":"Lambda_12"}},"color":{"field":"c","type":"nominal","scale":{"domain":["k","r","g"],"range":["#1a1a1a","#DF536B","#61D04F"]},"legend":null}}},{"data":{"name":"tv"},"transform":[{"filter":"datum.p==='1→2'"}],"mark":{"type":"rule","color":"#EE8E8E","strokeWidth":1,"opacity":0.8},"encoding":{"y":{"field":"t","type":"quantitative","scale":{"domain":[-4.32,4.32],"nice":false,"zero":false}}}}]},
{"width":261,"height":119,"title":{"text":"1→1","offset":0,"dy":0,"dx":3},"layer":[{"data":{"name":"tr"},"transform":[{"filter":"datum.p==='1→1'"},{"flatten":["x","k","r","g"]},{"fold":["k","r","g"],"as":["c","v"]}],"mark":{"type":"line","strokeWidth":0.8,"opacity":0.85,"clip":true},"encoding":{"x":{"field":"x","type":"quantitative","scale":{"domain":[-400,10400],"nice":false,"zero":false},"axis":null},"y":{"field":"v","type":"quantitative","scale":{"domain":[-4.32,4.32],"nice":false,"zero":false},"axis":{"values":[-4,-2,0,2,4],"title":"Lambda_11"}},"color":{"field":"c","type":"nominal","scale":{"domain":["k","r","g"],"range":["#1a1a1a","#DF536B","#61D04F"]},"legend":null}}},{"data":{"name":"tv"},"transform":[{"filter":"datum.p==='1→1'"}],"mark":{"type":"rule","color":"#EE8E8E","strokeWidth":1,"opacity":0.8},"encoding":{"y":{"field":"t","type":"quantitative","scale":{"domain":[-4.32,4.32],"nice":false,"zero":false}}}}]},
{"width":248,"height":112,"title":{"text":"1→0","offset":0,"dy":-10,"dx":16},"layer":[{"data":{"name":"tr"},"transform":[{"filter":"datum.p==='1→0'"},{"flatten":["x","k","r","g"]},{"fold":["k","r","g"],"as":["c","v"]}],"mark":{"type":"line","strokeWidth":0.8,"opacity":0.85,"clip":true},"encoding":{"x":{"field":"x","type":"quantitative","scale":{"domain":[-550,9780],"nice":false,"zero":false},"axis":{"values":[0,2000,4000,6000,8000],"format":"d","title":"MCMC_Draw","offset":2,"titlePadding":1}},"y":{"field":"v","type":"quantitative","scale":{"domain":[-4.32,4.32],"nice":false,"zero":false},"axis":{"values":[-4,-2,0,2,4],"title":"Lambda_10"}},"color":{"field":"c","type":"nominal","scale":{"domain":["k","r","g"],"range":["#1a1a1a","#DF536B","#61D04F"]},"legend":null}}},{"data":{"name":"tv"},"transform":[{"filter":"datum.p==='1→0'"}],"mark":{"type":"rule","color":"#EE8E8E","strokeWidth":1,"opacity":0.8},"encoding":{"y":{"field":"t","type":"quantitative","scale":{"domain":[-4.32,4.32],"nice":false,"zero":false}}}}]},
{"width":263,"height":104,"title":{"text":"0→1","offset":0,"dy":-30,"dx":-8},"layer":[{"data":{"name":"tr"},"transform":[{"filter":"datum.p==='0→1'"},{"flatten":["x","k","r","g"]},{"fold":["k","r","g"],"as":["c","v"]}],"mark":{"type":"line","strokeWidth":0.8,"opacity":0.85,"clip":true},"encoding":{"x":{"field":"x","type":"quantitative","scale":{"domain":[-400,10400],"nice":false,"zero":false},"axis":{"values":[0,2000,4000,6000,8000,10000],"format":"d","title":"MCMC_Draw","offset":2,"titlePadding":1}},"y":{"field":"v","type":"quantitative","scale":{"domain":[-4.32,4.32],"nice":false,"zero":false},"axis":{"values":[-4,-2,0,2,4],"title":"Lambda_01"}},"color":{"field":"c","type":"nominal","scale":{"domain":["k","r","g"],"range":["#1a1a1a","#DF536B","#61D04F"]},"legend":null}}},{"data":{"name":"tv"},"transform":[{"filter":"datum.p==='0→1'"}],"mark":{"type":"rule","color":"#EE8E8E","strokeWidth":1,"opacity":0.8},"encoding":{"y":{"field":"t","type":"quantitative","scale":{"domain":[-4.32,4.32],"nice":false,"zero":false}}}}]},
{"width":260,"height":104,"title":{"text":"0→0","offset":0,"dy":-30,"dx":0},"layer":[{"data":{"name":"tr"},"transform":[{"filter":"datum.p==='0→0'"},{"flatten":["x","k","r","g"]},{"fold":["k","r","g"],"as":["c","v"]}],"mark":{"type":"line","strokeWidth":0.7,"opacity":0.85,"clip":true},"encoding":{"x":{"field":"x","type":"quantitative","scale":{"domain":[-400,10400],"nice":false,"zero":false},"axis":{"values":[0,2000,4000,6000,8000,10000],"format":"d","title":"MCMC_Draw","offset":2,"titlePadding":1}},"y":{"field":"v","type":"quantitative","scale":{"domain":[-4.32,4.32],"nice":false,"zero":false},"axis":{"values":[-4,-2,0,2,4],"title":"Lambda_00"}},"color":{"field":"c","type":"nominal","scale":{"domain":["k","r","g"],"range":["#1a1a1a","#DF536B","#61D04F"]},"legend":null}}},{"data":{"name":"tv"},"transform":[{"filter":"datum.p==='0→0'"}],"mark":{"type":"rule","color":"#EE8E8E","strokeWidth":1,"opacity":0.8},"encoding":{"y":{"field":"t","type":"quantitative","scale":{"domain":[-4.32,4.32],"nice":false,"zero":false}}}}]},
{"width":261,"height":104,"title":{"text":"0→#","offset":0,"dy":-30,"dx":3},"layer":[{"data":{"name":"tr"},"transform":[{"filter":"datum.p==='0→#'"},{"flatten":["x","k","r","g"]},{"fold":["k","r","g"],"as":["c","v"]}],"mark":{"type":"line","strokeWidth":0.8,"opacity":0.85,"clip":true},"encoding":{"x":{"field":"x","type":"quantitative","scale":{"domain":[-400,10400],"nice":false,"zero":false},"axis":{"values":[0,2000,4000,6000,8000,10000],"format":"d","title":"MCMC_Draw","offset":2,"titlePadding":1}},"y":{"field":"v","type":"quantitative","scale":{"domain":[-4.32,4.32],"nice":false,"zero":false},"axis":{"values":[-4,-2,0,2,4],"title":"Lambda_0#"}},"color":{"field":"c","type":"nominal","scale":{"domain":["k","r","g"],"range":["#1a1a1a","#DF536B","#61D04F"]},"legend":null}}},{"data":{"name":"tv"},"transform":[{"filter":"datum.p==='0→#'"}],"mark":{"type":"rule","color":"#EE8E8E","strokeWidth":1,"opacity":0.8},"encoding":{"y":{"field":"t","type":"quantitative","scale":{"domain":[-4.32,4.32],"nice":false,"zero":false}}}}]}
],
"config":{
"view":{"stroke":"#d0d0d0","strokeWidth":1},
"axis":{"grid":false,"labelFont":"Liberation Sans","titleFont":"Liberation Sans","labelFontSize":4,"titleFontSize":4.5,"titleFontWeight":"normal","labelColor":"#444444","titleColor":"#444444","tickColor":"#999999","tickSize":2,"domainColor":"#bbbbbb","labelPadding":1,"titlePadding":2,"offset":3},
"axisY":{"labelAngle":-90},
"title":{"font":"Liberation Serif","fontSize":21,"fontWeight":"normal","color":"#000000","orient":"bottom","frame":"group","baseline":"alphabetic","anchor":"middle"}
}
}
